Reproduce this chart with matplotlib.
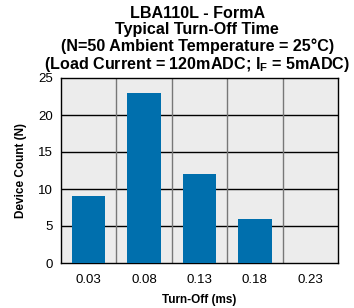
import matplotlib
matplotlib.use("Agg")
import matplotlib.pyplot as plt
import numpy as np

plt.rcParams['font.family'] = ['Liberation Sans', 'DejaVu Sans']
plt.rcParams['mathtext.fontset'] = 'custom'
plt.rcParams['mathtext.rm'] = 'Liberation Sans'
plt.rcParams['mathtext.bf'] = 'Liberation Sans:bold'

# data
turn_off = ['0.03', '0.08', '0.13', '0.18', '0.23']
counts = [9, 23, 12, 6, 0]
y_ticks = [0, 5, 10, 15, 20, 25]

fig = plt.figure(figsize=(3.54, 3.08), dpi=100)
ax = fig.add_axes([61 / 354, 1 - 263 / 308, 277 / 354, 185 / 308])
ax.set_facecolor('#ececec')

x = np.arange(len(turn_off))
ax.bar(x, counts, width=0.6, color='#006fad', zorder=3)

ax.set_xlim(-0.5, len(turn_off) - 0.5)
ax.set_ylim(0, 25)
ax.set_yticks(y_ticks)
ax.set_xticks(x)
ax.set_xticklabels(turn_off)

# grid: black horizontal, gray vertical at category boundaries
for yv in y_ticks[1:-1]:
    ax.axhline(yv, color='black', lw=1.0, zorder=1)
for xv in x[:-1] + 0.5:
    ax.axvline(xv, color='#777777', lw=1.0, zorder=1)

for s in ax.spines.values():
    s.set_linewidth(1.0)
ax.tick_params(axis='both', length=0, labelsize=9.5, pad=6)
ax.tick_params(axis='x', pad=8)

ax.set_xlabel('Turn-Off (ms)', fontsize=8.5, fontweight='bold', labelpad=6)
ax.set_ylabel('Device Count (N)', fontsize=8.5, fontweight='bold', labelpad=8)

title = ('LBA110L - FormA\nTypical Turn-Off Time\n'
         '(N=50 Ambient Temperature = 25°C)\n'
         r'(Load Current = 120mADC; $\mathbf{I_F}$ = 5mADC)')
fig.text(0.557, 1 - 6 / 308, title, ha='center', va='top', fontsize=11.6,
         fontweight='bold', linespacing=1.08)

fig.savefig('out.png', dpi=100)
